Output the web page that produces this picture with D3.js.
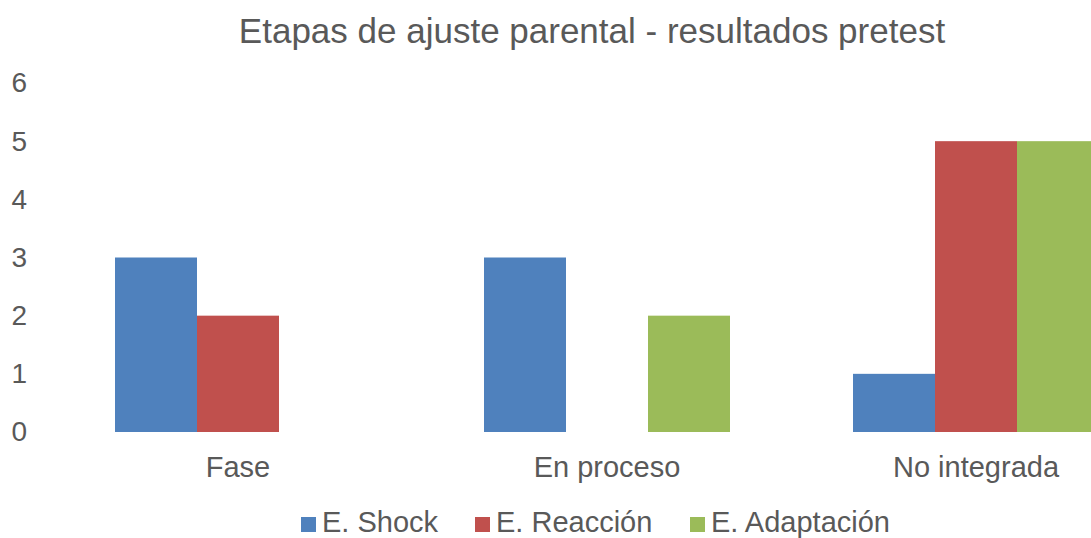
<!DOCTYPE html>
<html>
<head>
<meta charset="utf-8">
<script src="https://cdn.jsdelivr.net/npm/d3@7"></script>
<style>
body { margin: 0; background: #fff; }
svg { display: block; font-family: "Liberation Sans", Arial, sans-serif; }
</style>
</head>
<body>
<svg id="chart" width="1091" height="538"></svg>
<script>
const title = "Etapas de ajuste parental - resultados pretest";
const categories = ["Fase", "En proceso", "No integrada"];
const seriesNames = ["E. Shock", "E. Reacción", "E. Adaptación"];
const shockValues = [3, 3, 1];
const reaccionValues = [2, 0, 5];
const adaptacionValues = [0, 2, 5];
const yTicks = [0, 1, 2, 3, 4, 5, 6];
const colors = ["#4F81BD", "#C0504D", "#9BBB59"];

const seriesValues = [shockValues, reaccionValues, adaptacionValues];
const svg = d3.select("#chart");
const textColor = "#595959";

const x0 = d3.scaleBand().domain(categories).range([53.5, 1160.5]).padding(0);
const step = x0.bandwidth();
const gap = (step - 246) / 2;
const x1 = d3.scaleBand().domain(seriesNames).range([gap, step - gap]).padding(0);
const y = d3.scaleLinear().domain([0, 6]).range([432, 83]);

// bars
const groups = svg.append("g").selectAll("g")
  .data(categories)
  .join("g")
  .attr("transform", d => `translate(${x0(d)},0)`);

groups.selectAll("rect")
  .data((c, ci) => seriesNames.map((s, si) => ({ s, v: seriesValues[si][ci], si })))
  .join("rect")
  .attr("x", d => x1(d.s))
  .attr("width", x1.bandwidth())
  .attr("y", d => y(d.v))
  .attr("height", d => y(0) - y(d.v))
  .attr("fill", d => colors[d.si]);

// y axis
const yAxis = svg.append("g")
  .attr("transform", "translate(27,0)")
  .call(d3.axisLeft(y).tickValues(yTicks).tickSize(0).tickPadding(0).tickFormat(d3.format("d")));
yAxis.select(".domain").remove();
yAxis.selectAll("text")
  .attr("fill", textColor)
  .style("font-size", "28px")
  .style("font-family", "Liberation Sans, Arial, sans-serif");

// x axis
const xAxis = svg.append("g")
  .attr("transform", "translate(0,432)")
  .call(d3.axisBottom(x0).tickSize(0).tickPadding(24));
xAxis.select(".domain").remove();
xAxis.selectAll("text")
  .attr("fill", textColor)
  .attr("dy", "0.71em")
  .style("font-size", "29px")
  .style("font-family", "Liberation Sans, Arial, sans-serif");

// title
svg.append("text")
  .attr("x", 592)
  .attr("y", 43)
  .attr("text-anchor", "middle")
  .attr("fill", textColor)
  .style("font-size", "35px")
  .text(title);

// legend
const legendPos = [301, 475, 690];
const legend = svg.append("g").selectAll("g")
  .data(seriesNames)
  .join("g")
  .attr("transform", (d, i) => `translate(${legendPos[i]},0)`);
legend.append("rect")
  .attr("x", 0).attr("y", 517)
  .attr("width", 15).attr("height", 15)
  .attr("fill", (d, i) => colors[i]);
legend.append("text")
  .attr("x", 21).attr("y", 532)
  .attr("fill", textColor)
  .style("font-size", "29px")
  .text(d => d);
</script>
</body>
</html>
